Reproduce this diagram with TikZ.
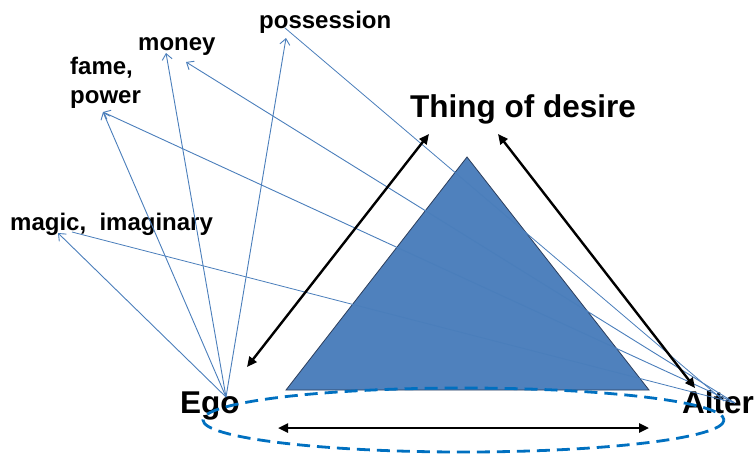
\documentclass[tikz,border=0pt]{standalone}
\usepackage{fontspec}
\setmainfont{Liberation Sans}
\usetikzlibrary{arrows.meta}
\definecolor{pyramid}{HTML}{4F81BD}
\definecolor{pyramidedge}{HTML}{2C3E5C}
\definecolor{link}{HTML}{4A7EBB}
\definecolor{ring}{HTML}{0070C0}
\tikzset{
  label/.style={anchor=base west, inner sep=0pt, font=\bfseries\fontsize{24}{29}\selectfont, align=left},
  bigtext/.style={anchor=base west, inner sep=0pt, font=\bfseries\fontsize{31.5}{36}\selectfont},
  relation/.style={line width=2.4pt, {Triangle[length=10pt,width=9pt]}-{Triangle[length=10pt,width=9pt]}},
  wish/.style={link, line width=0.9pt, -{Straight Barb[length=6pt,width=10pt]}},
  plainwish/.style={link, line width=0.8pt},
}
\begin{document}
\begin{tikzpicture}[x=1pt,y=-1pt]
\useasboundingbox (0,0) rectangle (754,453);

% the desire triangle
\filldraw[fill=pyramid, draw=pyramidedge, line width=0.8pt]
  (467,157) -- (286,390) -- (649,390) -- cycle;

% labels
\node[bigtext] (thing) at (410,117) {Thing of desire};
\node[bigtext] (ego)   at (180,413) {Ego};
\node[bigtext] (alter) at (682,413) {Alter};
\node[label] (possession) at (259,28) {possession};
\node[label] (money) at (138,50) {money};
\node[label] (fame) at (70,103) {fame,\\power};
\node[label] (magic) at (10,230) {magic,\ \ imaginary};

% end points of the desire links
\coordinate (egoO)    at (226,397);
\coordinate (alterO)  at (735,403);
\coordinate (alterP)  at (724,401);
\coordinate (possA)   at (286,38);
\coordinate (possB)   at (285,28);
\coordinate (moneyA)  at (166,53);
\coordinate (moneyB)  at (186,62);
\coordinate (fameT)   at (103,112);
\coordinate (magicA)  at (58,233);
\coordinate (magicB)  at (72,232);

% ego's desires
\draw[wish] (egoO) -- (magicA);
\draw[wish] (egoO) -- (fameT);
\draw[wish] (egoO) -- (moneyA);
\draw[wish] (egoO) -- (possA);

% alter's desires
\draw[plainwish] (alterP) -- (possB);
\draw[wish] (alterO) -- (moneyB);
\draw[wish] (alterO) -- (fameT);
\draw[plainwish] (alterO) -- (magicB);

% mimetic relations
\coordinate (l1) at (247,367);
\coordinate (l2) at (429,134);
\coordinate (r1) at (498,134);
\coordinate (r2) at (695,388);
\coordinate (h1) at (278,428);
\coordinate (h2) at (649,428);
\draw[relation] (l1) -- (l2);
\draw[relation] (r1) -- (r2);
\draw[relation] (h1) -- (h2);

% the ring around ego and alter
\draw[ring, line width=2.8pt, dash pattern=on 13pt off 7pt]
  (463.5,420) ellipse [x radius=260.5, y radius=32];
\end{tikzpicture}
\end{document}
